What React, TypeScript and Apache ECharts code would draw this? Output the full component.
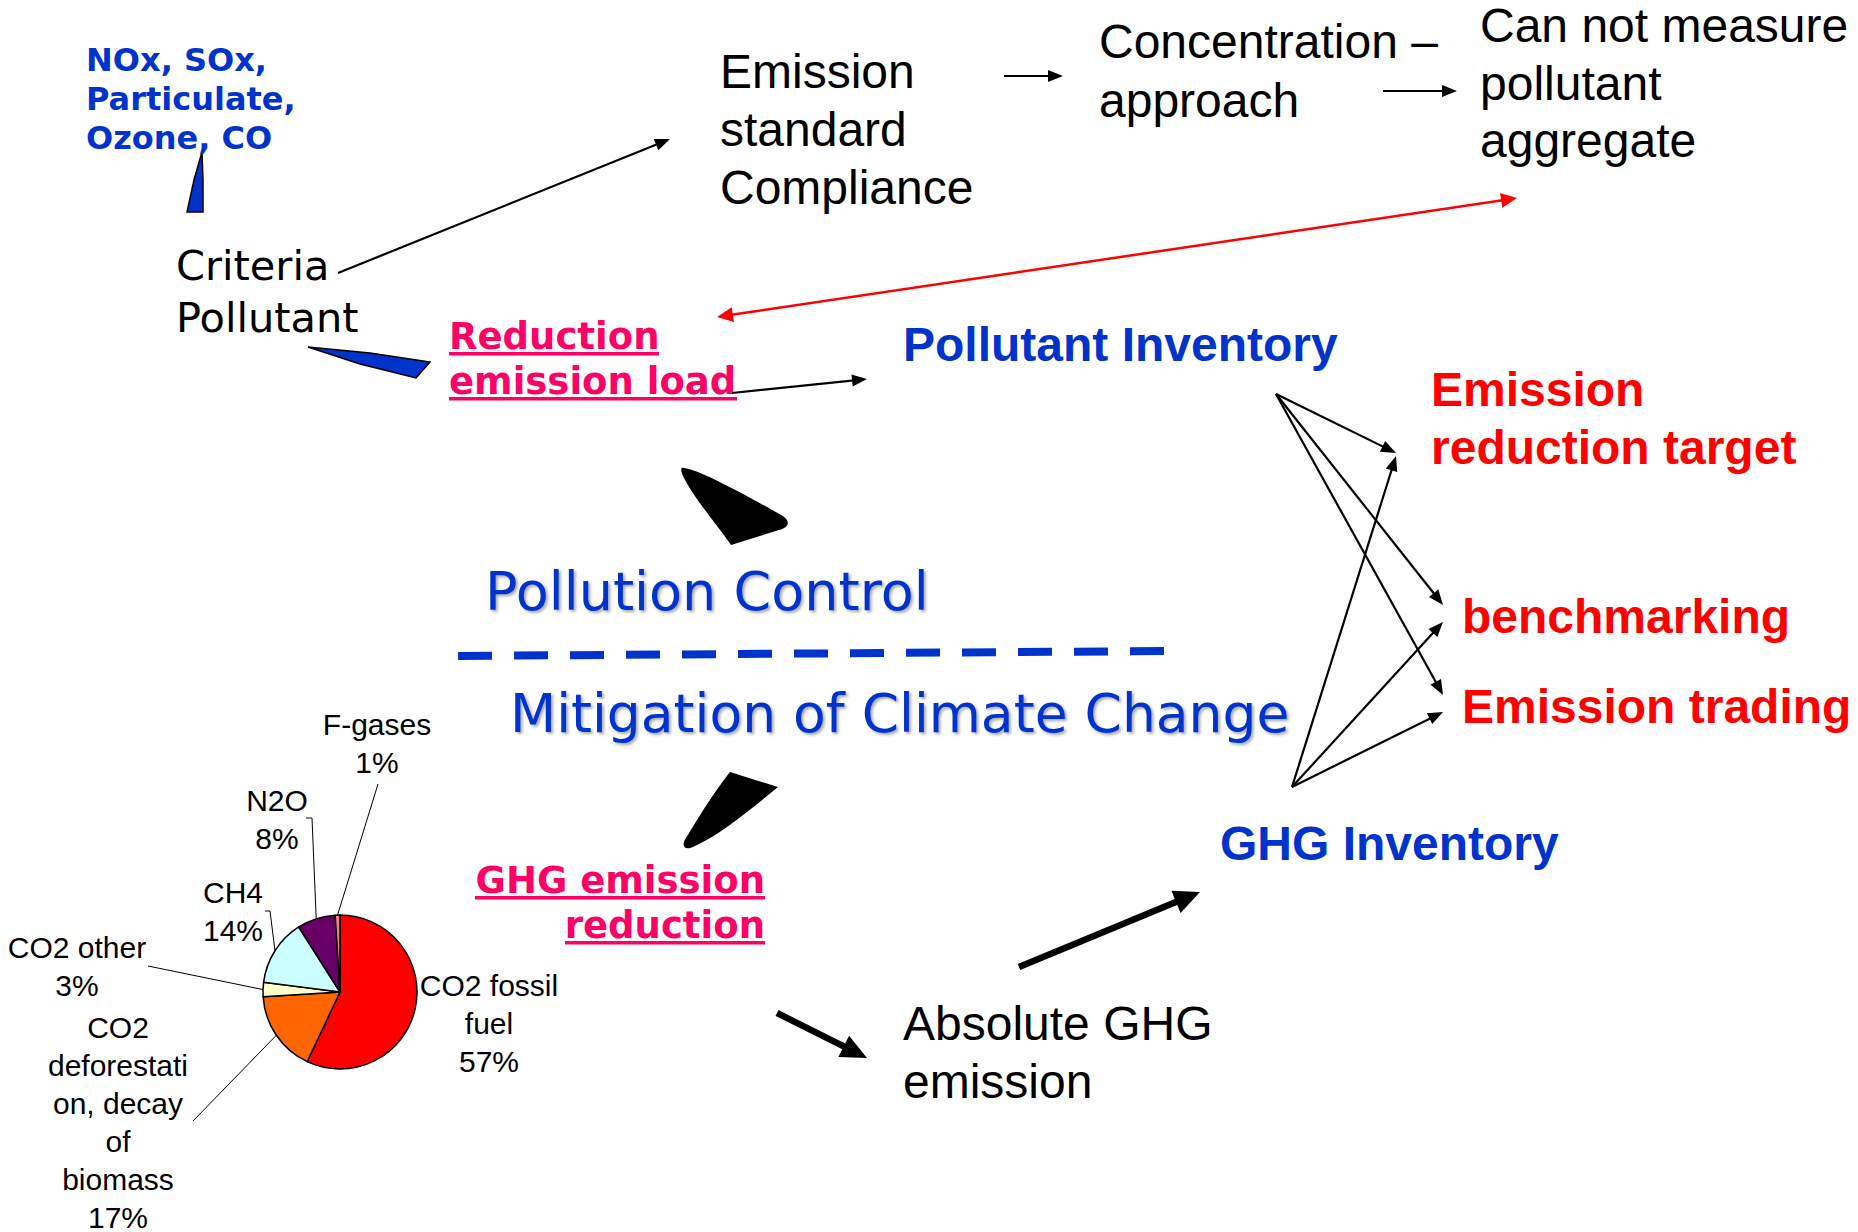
import React, { useEffect, useRef } from "react";
import * as echarts from "echarts";

// ---- data (pie of GHG shares) ----
const gasNames = [
  "CO2 fossil fuel",
  "CO2 deforestation, decay of biomass",
  "CO2 other",
  "CH4",
  "N2O",
  "F-gases",
];
const gasShares = [57, 17, 3, 14, 8, 1];
const gasLabelText = [
  "CO2 fossil\nfuel",
  "CO2\ndeforestati\non, decay\nof\nbiomass",
  "CO2 other",
  "CH4",
  "N2O",
  "F-gases",
];
const gasColors = ["#FF0000", "#FF6600", "#FFFFCC", "#CCFFFF", "#660066", "#FF8080"];

// ---- layout constants ----
const BLUE = "#0033CC";
const PINK = "#FF0066";
const RED = "#FF0000";
const VERDANA = "'DejaVu Sans', Verdana, sans-serif";
const ARIAL = "'Liberation Sans', Arial, sans-serif";

const pieLabelPos: { x: number; y: number; end?: number[]; tick?: number[] }[] = [
  { x: 489, y: 1023 },
  { x: 118, y: 1122, end: [193, 1121] },
  { x: 77, y: 966, end: [148, 966] },
  { x: 233, y: 911, end: [270, 911], tick: [265, 911] },
  { x: 277, y: 819, end: [312, 818], tick: [306, 818] },
  { x: 377, y: 743, end: [378, 784] },
];

function head(tx: number, ty: number, ux: number, uy: number, color: string, hl: number, hw: number) {
  const bx = tx - ux * hl;
  const by = ty - uy * hl;
  const px = -uy;
  const py = ux;
  return {
    type: "polygon",
    silent: true,
    shape: {
      points: [
        [tx, ty],
        [bx + (px * hw) / 2, by + (py * hw) / 2],
        [bx - (px * hw) / 2, by - (py * hw) / 2],
      ],
    },
    style: { fill: color },
  };
}

function arrow(
  x1: number, y1: number, x2: number, y2: number,
  color = "#000", lw = 2.2, hl = 15, hw = 12, both = false
) {
  const dx = x2 - x1;
  const dy = y2 - y1;
  const len = Math.hypot(dx, dy);
  const ux = dx / len;
  const uy = dy / len;
  const sx = both ? x1 + ux * hl * 0.7 : x1;
  const sy = both ? y1 + uy * hl * 0.7 : y1;
  const els: any[] = [
    {
      type: "line",
      silent: true,
      shape: { x1: sx, y1: sy, x2: x2 - ux * hl * 0.7, y2: y2 - uy * hl * 0.7 },
      style: { stroke: color, lineWidth: lw, lineCap: "butt" },
    },
    head(x2, y2, ux, uy, color, hl, hw),
  ];
  if (both) els.push(head(x1, y1, -ux, -uy, color, hl, hw));
  return els;
}

function txt(
  x: number, y: number, text: string, size: number, family: string,
  color: string, opts: any = {}
) {
  return {
    type: "text",
    x,
    y,
    silent: true,
    style: {
      text,
      fill: color,
      fontSize: size,
      fontFamily: family,
      fontWeight: opts.bold ? "bold" : "normal",
      lineHeight: opts.lh || Math.round(size * 1.25),
      align: opts.align || "left",
      verticalAlign: opts.va || "top",
      ...(opts.shadow
        ? {
            textShadowColor: "rgba(0,0,0,0.35)",
            textShadowBlur: 3,
            textShadowOffsetX: 2,
            textShadowOffsetY: 2,
          }
        : {}),
    },
  };
}

function underline(x: number, y: number, w: number, color: string) {
  return { type: "rect", silent: true, shape: { x, y, width: w, height: 3.5 }, style: { fill: color } };
}

echarts.graphic.registerShape(
  "wedgeTop",
  echarts.graphic.extendPath(
    "M684,468 C700,470 740,492 783,516 C790,521 790,527 779,530 L731,545 C715,522 693,497 683,476 C680,469 681,467 684,468 Z",
    {}
  )
);
echarts.graphic.registerShape(
  "wedgeBottom",
  echarts.graphic.extendPath(
    "M730,772 L778,787 C750,810 720,835 693,847 C684,851 681,845 686,838 C700,815 712,795 730,772 Z",
    {}
  )
);

export default function App() {
  const ref = useRef<HTMLDivElement>(null);

  useEffect(() => {
    if (!ref.current) return;
    const chart = echarts.init(ref.current, undefined, { renderer: "svg" });

    const graphics: any[] = [
      // blue callout wedges
      {
        type: "polygon",
        silent: true,
        shape: { points: [[202, 152], [194, 180], [187, 212], [203, 212], [203, 180]] },
        style: { fill: BLUE, stroke: "#000", lineWidth: 1.5 },
      },
      {
        type: "polygon",
        silent: true,
        shape: { points: [[308, 347], [370, 353], [430, 362], [416, 378], [360, 364]] },
        style: { fill: BLUE, stroke: "#000", lineWidth: 1.5 },
      },
      // black wedges
      { type: "wedgeTop", silent: true, x: 0, y: 0, style: { fill: "#000" } },
      { type: "wedgeBottom", silent: true, x: 0, y: 0, style: { fill: "#000" } },

      // texts
      txt(86, 40, "NOx, SOx,\nParticulate,\nOzone, CO", 32, VERDANA, BLUE, { bold: true, lh: 39 }),
      txt(176, 239, "Criteria\nPollutant", 41.5, VERDANA, "#000", { lh: 52 }),
      txt(720, 42, "Emission\nstandard\nCompliance", 48, ARIAL, "#000", { lh: 58 }),
      txt(1099, 12, "Concentration \u2013\napproach", 48, ARIAL, "#000", { lh: 59 }),
      txt(1480, -3, "Can not measure\npollutant\naggregate", 48, ARIAL, "#000", { lh: 57.5 }),
      txt(449, 313.5, "Reduction\nemission load", 37, VERDANA, PINK, { bold: true, lh: 45 }),
      underline(449, 352, 210, PINK),
      underline(449, 397, 288, PINK),
      txt(903, 344, "Pollutant Inventory", 48, ARIAL, BLUE, { bold: true, va: "middle" }),
      txt(1431, 360, "Emission\nreduction target", 48, ARIAL, RED, { bold: true, lh: 58 }),
      txt(1462, 616, "benchmarking", 48, ARIAL, RED, { bold: true, va: "middle" }),
      txt(1462, 706, "Emission trading", 48, ARIAL, RED, { bold: true, va: "middle" }),
      txt(1220, 843, "GHG Inventory", 48, ARIAL, BLUE, { bold: true, va: "middle" }),
      txt(485, 591, "Pollution Control", 54, VERDANA, BLUE, { va: "middle", shadow: true }),
      txt(510, 713, "Mitigation of Climate Change", 53.5, VERDANA, BLUE, { va: "middle", shadow: true }),
      txt(765, 857.5, "GHG emission\nreduction", 37, VERDANA, PINK, { bold: true, lh: 45, align: "right" }),
      underline(475, 896, 290, PINK),
      underline(565, 941, 200, PINK),
      txt(903, 994, "Absolute GHG\nemission", 48, ARIAL, "#000", { lh: 58 }),

      // dashed divider
      {
        type: "line",
        silent: true,
        shape: { x1: 458, y1: 656, x2: 1164, y2: 651 },
        style: { stroke: BLUE, lineWidth: 8, lineDash: [34, 22] },
      },

      // arrows
      ...arrow(338, 273, 670, 139),
      ...arrow(1004, 76, 1063, 76),
      ...arrow(1383, 91, 1457, 91),
      ...arrow(717, 317, 1517, 198, RED, 2.5, 16, 15, true),
      ...arrow(732, 393, 867, 379),
      ...arrow(1276, 394, 1396, 453),
      ...arrow(1276, 394, 1443, 605),
      ...arrow(1276, 394, 1443, 695),
      ...arrow(1292, 787, 1396, 456),
      ...arrow(1292, 787, 1443, 622),
      ...arrow(1292, 787, 1443, 712),
      ...arrow(777, 1013, 867, 1058, "#000", 6.5, 26, 24),
      ...arrow(1019, 967, 1200, 892, "#000", 6.5, 26, 24),
    ];

    const option: any = {
      animation: false,
      backgroundColor: "#FFFFFF",
      graphic: { elements: graphics },
      series: [
        {
          type: "pie",
          center: [340, 992],
          radius: 77,
          startAngle: 90,
          clockwise: true,
          avoidLabelOverlap: false,
          silent: true,
          itemStyle: { borderColor: "#000", borderWidth: 1.5 },
          label: {
            show: true,
            position: "outside",
            formatter: (p: any) => `${gasLabelText[p.dataIndex]}\n${p.value}%`,
            fontFamily: ARIAL,
            fontSize: 30,
            lineHeight: 38,
            color: "#000",
            align: "center",
          },
          labelLine: {
            show: true,
            length: 10,
            length2: 10,
            smooth: false,
            lineStyle: { color: "#000", width: 1 },
          },
          labelLayout: (params: any) => {
            const p = pieLabelPos[params.dataIndex];
            const res: any = { x: p.x, y: p.y, align: "center", verticalAlign: "middle" };
            const pts = params.labelLinePoints;
            if (p.end && pts && pts[0]) {
              res.labelLinePoints = [pts[0], p.end, p.tick || p.end];
            }
            return res;
          },
          data: gasNames.map((name, i) => ({
            name,
            value: gasShares[i],
            itemStyle: { color: gasColors[i] },
            ...(i === 0 ? { labelLine: { show: false } } : {}),
          })),
        },
      ],
    };

    chart.setOption(option);
    return () => chart.dispose();
  }, []);

  return (
    <div
      ref={ref}
      style={{ position: "fixed", left: 0, top: 0, width: 1858, height: 1232, background: "#fff" }}
    />
  );
}
